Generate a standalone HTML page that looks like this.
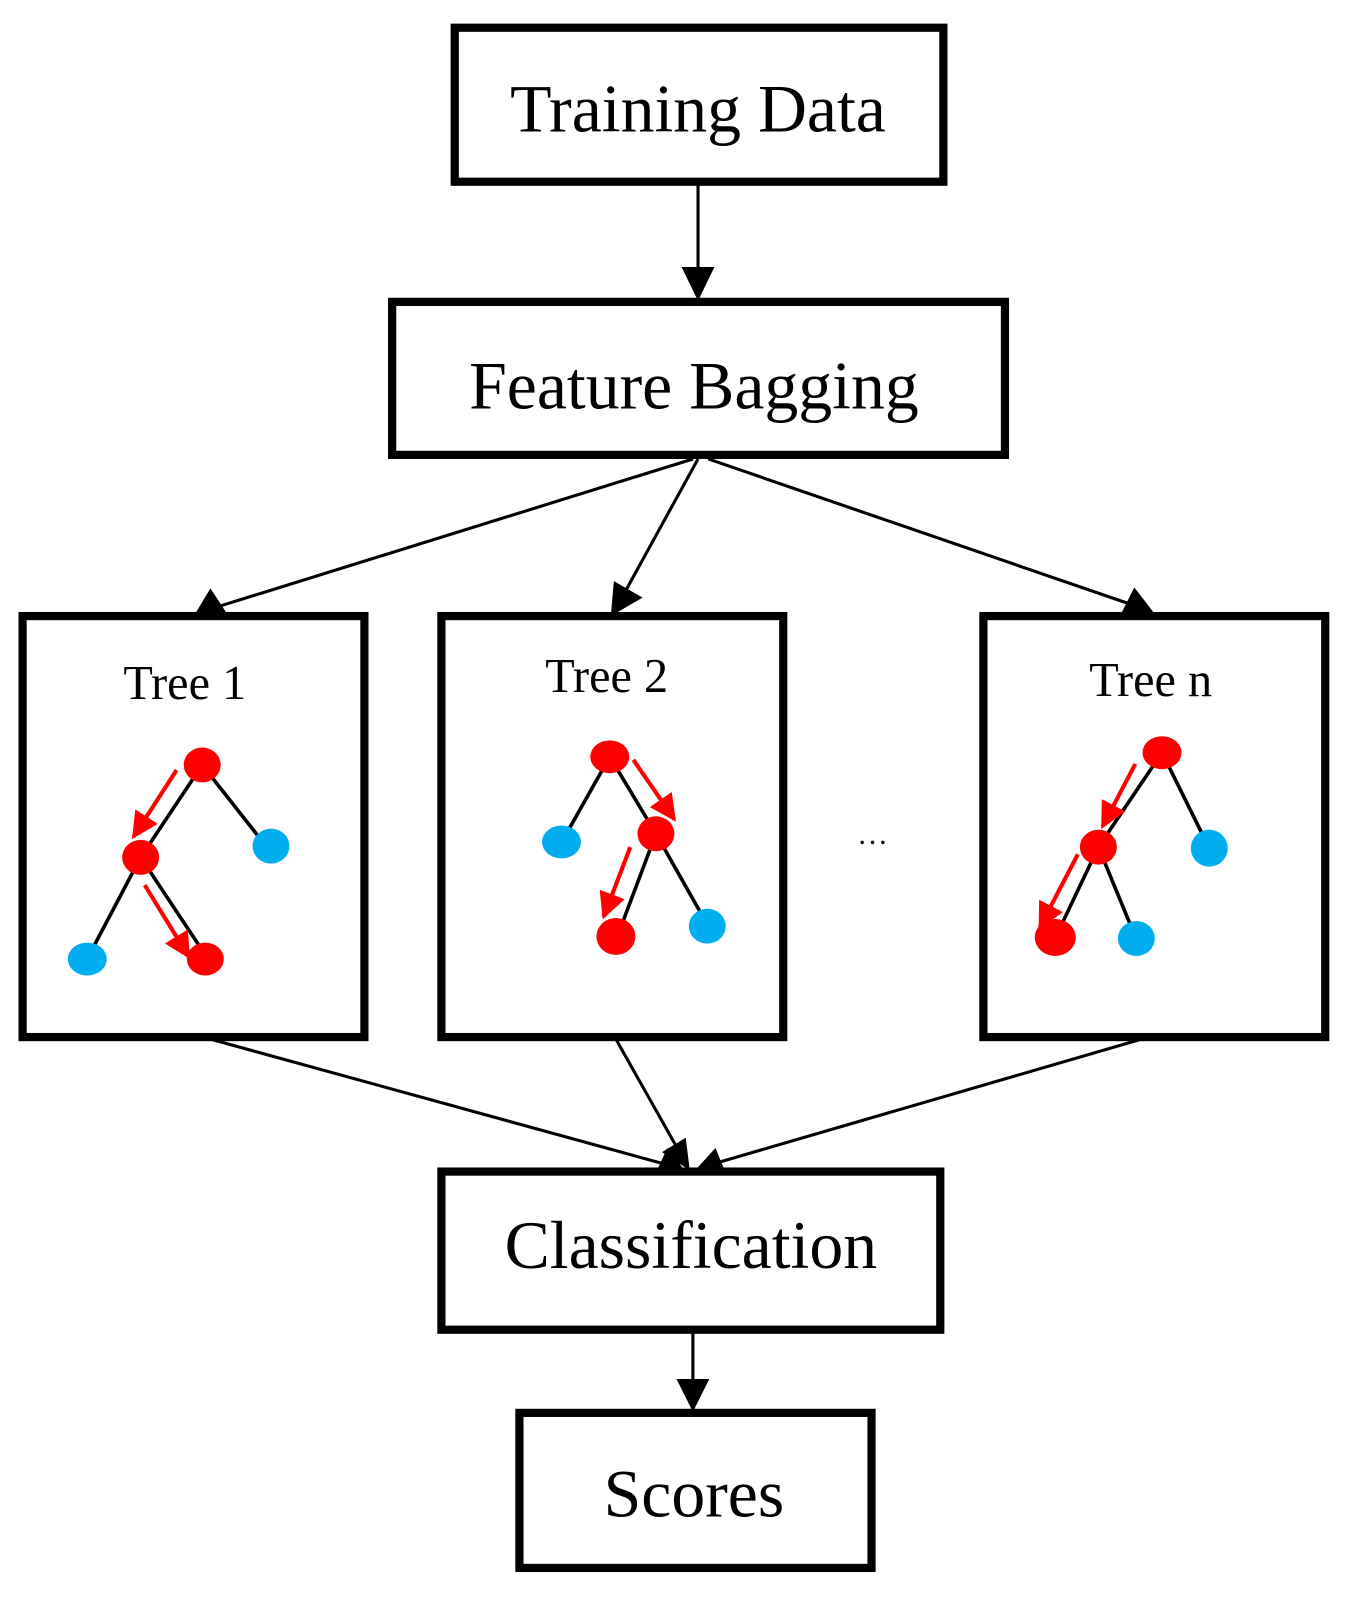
<!DOCTYPE html>
<html><head><style>html,body{margin:0;padding:0;background:#fff}svg{display:block}</style></head>
<body>
<svg width="1355" height="1609" viewBox="0 0 1320 1567" preserveAspectRatio="none" xmlns="http://www.w3.org/2000/svg">
<defs>
<marker id="r" viewBox="0 0 10 10" refX="9" refY="5" markerWidth="32" markerHeight="26" orient="auto" markerUnits="userSpaceOnUse"><path d="M0,0 L10,5 L0,10z" fill="#f00"/></marker>
</defs>
<style>
.b{fill:#fff;stroke:#000;stroke-width:8}
.t{font-family:"Liberation Serif",serif;fill:#000;text-anchor:middle}
.l{stroke:#000;stroke-width:3;fill:none}
.e{stroke:#000;stroke-width:3.5}
.ra{stroke:#f00;stroke-width:4}
</style>
<g>
<path class="l" d="M680,177 L680,262"/><path d="M664,260 L696,260 L680,293z"/>
<path class="l" d="M675,1297 L675,1345"/><path d="M659,1343 L691,1343 L675,1375z"/>
<path class="l" d="M675,447 L215,590"/><path d="M190,598 L205,573 L222,599z"/>
<path class="l" d="M680,447 L608,578"/><path d="M595,600 L598,566 L626,582z"/>
<path class="l" d="M690,447 L1100,588"/><path d="M1125,598 L1092,598 L1105,572z"/>
<path class="l" d="M205,1012 L645,1133"/><path d="M668,1141 L640,1140 L650,1118z"/>
<path class="l" d="M600,1012 L658,1115"/><path d="M672,1140 L645,1122 L668,1108z"/>
<path class="l" d="M1112,1012 L700,1132"/><path d="M676,1141 L697,1118 L706,1140z"/>
</g>
<rect class="b" x="443" y="27" width="476" height="150"/>
<rect class="b" x="382" y="294" width="597" height="149"/>
<rect class="b" x="22" y="600" width="333" height="410"/>
<rect class="b" x="430" y="600" width="333" height="410"/>
<rect class="b" x="958" y="600" width="333" height="410"/>
<rect class="b" x="430" y="1141" width="486" height="154"/>
<rect class="b" x="506" y="1376" width="343" height="151"/>
<text class="t" x="680" y="128" font-size="66">Training Data</text>
<text class="t" x="676" y="398" font-size="66">Feature Bagging</text>
<text class="t" x="673" y="1235" font-size="66">Classification</text>
<text class="t" x="676" y="1477" font-size="66">Scores</text>
<text class="t" x="180" y="681" font-size="47">Tree 1</text>
<text class="t" x="591" y="674" font-size="47">Tree 2</text>
<text class="t" x="1121" y="678" font-size="47">Tree n</text>
<text class="t" x="850" y="822" font-size="30">…</text>
<!-- tree 1 -->
<line class="e" x1="197" y1="745" x2="137" y2="835"/><line class="e" x1="197" y1="745" x2="256" y2="820"/>
<line class="e" x1="137" y1="835" x2="88" y2="928"/><line class="e" x1="137" y1="835" x2="200" y2="930"/>
<ellipse cx="197" cy="745" rx="18" ry="17" fill="#f00"/><ellipse cx="264" cy="824" rx="18" ry="17" fill="#00aeef"/>
<ellipse cx="137" cy="835" rx="18" ry="17" fill="#f00"/><ellipse cx="85" cy="934" rx="19" ry="16" fill="#00aeef"/>
<ellipse cx="200" cy="934" rx="18" ry="16" fill="#f00"/>
<line class="ra" x1="172" y1="750" x2="130" y2="815" marker-end="url(#r)"/>
<line class="ra" x1="141" y1="862" x2="184" y2="932" marker-end="url(#r)"/>
<!-- tree 2 -->
<line class="e" x1="594" y1="737" x2="550" y2="815"/><line class="e" x1="594" y1="737" x2="639" y2="812"/>
<line class="e" x1="639" y1="812" x2="604" y2="905"/><line class="e" x1="639" y1="812" x2="686" y2="895"/>
<ellipse cx="594" cy="737" rx="19" ry="16" fill="#f00"/><ellipse cx="547" cy="820" rx="19" ry="16" fill="#00aeef"/>
<ellipse cx="639" cy="812" rx="18" ry="17" fill="#f00"/><ellipse cx="600" cy="912" rx="19" ry="18" fill="#f00"/>
<ellipse cx="689" cy="902" rx="18" ry="17" fill="#00aeef"/>
<line class="ra" x1="617" y1="740" x2="657" y2="798" marker-end="url(#r)"/>
<line class="ra" x1="614" y1="825" x2="588" y2="893" marker-end="url(#r)"/>
<!-- tree n -->
<line class="e" x1="1132" y1="733" x2="1070" y2="825"/><line class="e" x1="1132" y1="733" x2="1175" y2="820"/>
<line class="e" x1="1070" y1="825" x2="1032" y2="905"/><line class="e" x1="1070" y1="825" x2="1103" y2="905"/>
<ellipse cx="1132" cy="733" rx="19" ry="16" fill="#f00"/><ellipse cx="1178" cy="826" rx="18" ry="18" fill="#00aeef"/>
<ellipse cx="1070" cy="825" rx="18" ry="17" fill="#f00"/><ellipse cx="1028" cy="913" rx="20" ry="18" fill="#f00"/>
<ellipse cx="1107" cy="914" rx="18" ry="17" fill="#00aeef"/>
<line class="ra" x1="1106" y1="744" x2="1074" y2="805" marker-end="url(#r)"/>
<line class="ra" x1="1050" y1="832" x2="1013" y2="903" marker-end="url(#r)"/>
</svg>
</body></html>
